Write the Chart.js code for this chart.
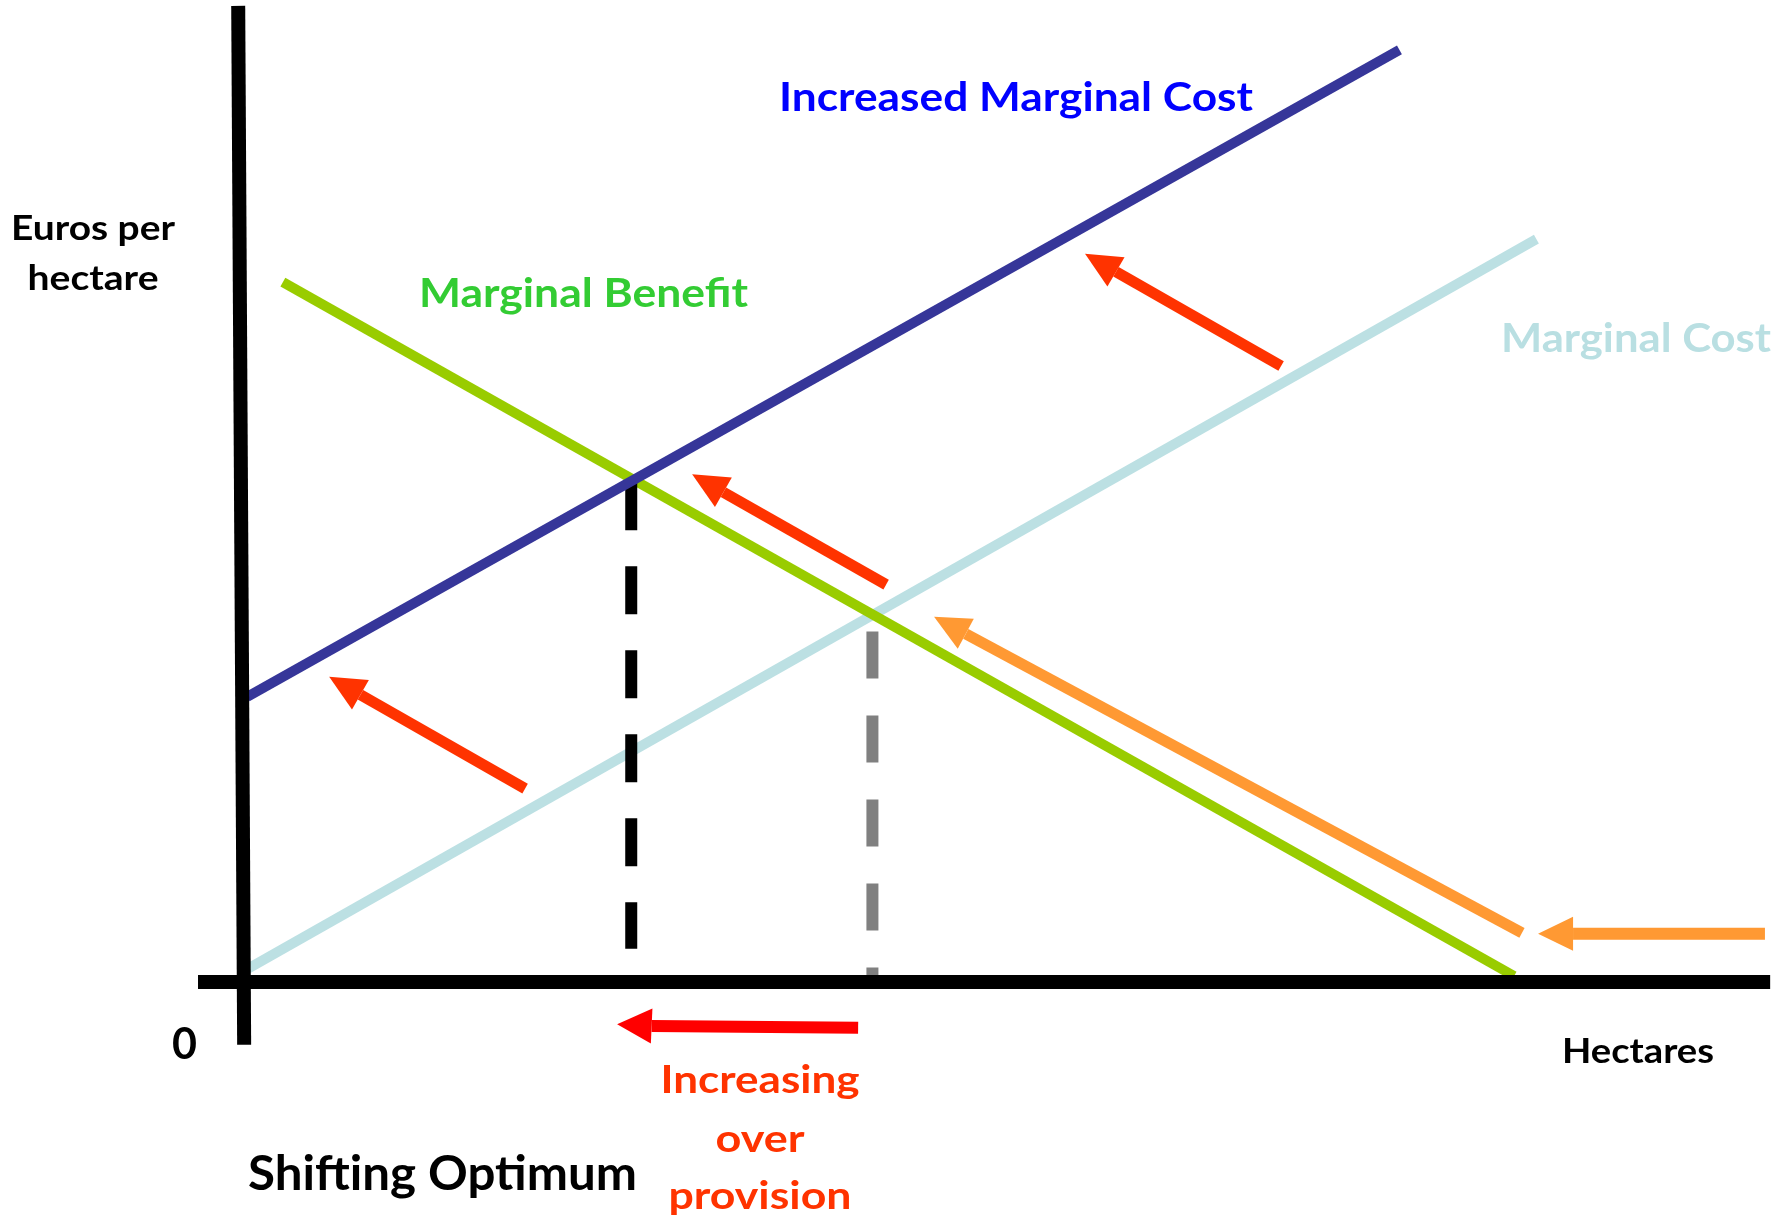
<!DOCTYPE html>
<html>
<head>
<meta charset="utf-8">
<title>Shifting Optimum</title>
<script src="https://cdn.jsdelivr.net/npm/chart.js@4.4.1/dist/chart.umd.min.js"></script>
<style>
  html, body { margin: 0; padding: 0; background: #ffffff; }
  canvas { display: block; }
</style>
</head>
<body>
<canvas id="chart" width="1791" height="1221"></canvas>
<script>
// values (x = hectares, y = euros per hectare, y-axis top = 100)
const yAxisLine = [{ x: -0.2, y: 100 }, { x: 0.2, y: -6.45 }];
const xAxisLine = [{ x: -2.9, y: 0 }, { x: 102.7, y: 0 }];
const marginalCost = [{ x: 0.4, y: 1.3 }, { x: 87.0, y: 76.1 }];
const increasedMarginalCost = [{ x: 0.4, y: 29.2 }, { x: 77.8, y: 95.5 }];
const marginalBenefit = [{ x: 2.8, y: 71.7 }, { x: 85.5, y: 0.6 }];
const newOptimumDrop = [{ x: 26.2, y: 51.2 }, { x: 26.2, y: 3.4 }];
const oldOptimumDrop = [{ x: 42.4, y: 35.9 }, { x: 42.4, y: 0.5 }];

// arrows: tail, head base, tip
const shiftArrowUpper = [{ x: 69.85, y: 63.1 }, { x: 58.76, y: 72.75 }, { x: 56.68, y: 74.6 }];
const shiftArrowMiddle = [{ x: 43.32, y: 40.7 }, { x: 32.39, y: 50.17 }, { x: 30.29, y: 52.0 }];
const shiftArrowLower = [{ x: 19.07, y: 19.8 }, { x: 8.01, y: 29.42 }, { x: 5.91, y: 31.25 }];
const benefitArrowSlope = [{ x: 86.03, y: 5.02 }, { x: 48.67, y: 35.66 }, { x: 46.54, y: 37.4 }];
const benefitArrowIn = [{ x: 102.35, y: 4.92 }, { x: 89.46, y: 4.92 }, { x: 87.11, y: 4.92 }];
const overProvisionArrow = [{ x: 41.44, y: -4.71 }, { x: 27.57, y: -4.51 }, { x: 25.25, y: -4.35 }];

const labelTexts = ['Increased Marginal Cost', 'Marginal Benefit', 'Marginal Cost', 'Euros per', 'hectare',
  '0', 'Hectares', 'Shifting Optimum', 'Increasing', 'over', 'provision'];

// text layout (pixels): anchor x, baseline y, size, fitted width
const labelStyles = [
  { x: 779, y: 111, size: 40, width: 474, align: 'left', color: '#0000ff' },
  { x: 419, y: 307, size: 40, width: 329, align: 'left', color: '#33cc33' },
  { x: 1501, y: 352, size: 41, width: 270, align: 'left', color: '#b9dfe2' },
  { x: 93, y: 240, size: 34, width: 164, align: 'center', color: '#000000' },
  { x: 93, y: 290, size: 34, width: 131, align: 'center', color: '#000000' },
  { x: 172, y: 1059, size: 43, width: 25, align: 'left', color: '#000000' },
  { x: 1562, y: 1063, size: 35, width: 152, align: 'left', color: '#000000' },
  { x: 248, y: 1190, size: 47, width: 389, align: 'left', color: '#000000' },
  { x: 760, y: 1093, size: 39, width: 199, align: 'center', color: '#ff3300' },
  { x: 760, y: 1152, size: 39, width: 89, align: 'center', color: '#ff3300' },
  { x: 760, y: 1209, size: 39, width: 183, align: 'center', color: '#ff3300' }
];

const FONT = 'Lato, "Open Sans", sans-serif';

function lineSet(label, data, color, width, order, extra) {
  return Object.assign({
    label,
    data,
    showLine: true,
    borderColor: color,
    backgroundColor: color,
    borderWidth: width,
    borderCapStyle: 'butt',
    pointRadius: 0,
    pointHoverRadius: 0,
    fill: false,
    tension: 0,
    order
  }, extra || {});
}

function arrowSet(label, data, color, width, halfHead) {
  return lineSet(label, data, color, width, 6, {
    arrowHalfWidth: halfHead,
    segment: {
      borderColor: (ctx) => (ctx.p0DataIndex === 1 ? 'transparent' : undefined)
    }
  });
}

// draws the arrow heads from the head-base point to the tip point
const arrowHeads = {
  id: 'arrowHeads',
  afterDatasetsDraw(chart) {
    const ctx = chart.ctx;
    chart.data.datasets.forEach((ds, i) => {
      if (!ds.arrowHalfWidth) return;
      const pts = chart.getDatasetMeta(i).data;
      const neck = pts[1];
      const tip = pts[2];
      const dx = tip.x - neck.x;
      const dy = tip.y - neck.y;
      const len = Math.hypot(dx, dy) || 1;
      const px = -dy / len * ds.arrowHalfWidth;
      const py = dx / len * ds.arrowHalfWidth;
      ctx.save();
      ctx.fillStyle = ds.borderColor;
      ctx.beginPath();
      ctx.moveTo(tip.x, tip.y);
      ctx.lineTo(neck.x + px, neck.y + py);
      ctx.lineTo(neck.x - px, neck.y - py);
      ctx.closePath();
      ctx.fill();
      ctx.restore();
    });
  }
};

const diagramLabels = {
  id: 'diagramLabels',
  afterDraw(chart) {
    const ctx = chart.ctx;
    labelTexts.forEach((text, i) => {
      const s = labelStyles[i];
      ctx.save();
      ctx.font = `bold ${s.size}px ${FONT}`;
      const w = ctx.measureText(text).width || 1;
      ctx.translate(s.x, s.y);
      ctx.scale(s.width / w, 1);
      ctx.textAlign = s.align;
      ctx.textBaseline = 'alphabetic';
      ctx.fillStyle = s.color;
      ctx.fillText(text, 0, 0);
      ctx.restore();
    });
  }
};

new Chart(document.getElementById('chart'), {
  type: 'scatter',
  data: {
    datasets: [
      lineSet('Vertical axis', yAxisLine, '#000000', 14, 0),
      lineSet('Horizontal axis', xAxisLine, '#000000', 14, 0),
      lineSet('Increased Marginal Cost', increasedMarginalCost, '#363699', 10, 1),
      lineSet('New optimum', newOptimumDrop, '#000000', 12, 2, { borderDash: [48, 36] }),
      lineSet('Marginal Benefit', marginalBenefit, '#99cc00', 10, 3),
      lineSet('Marginal Cost', marginalCost, '#bce0e3', 10, 4),
      lineSet('Old optimum', oldOptimumDrop, '#808080', 12, 5, { borderDash: [47, 37] }),
      arrowSet('Shift upper', shiftArrowUpper, '#ff3300', 11, 17),
      arrowSet('Shift middle', shiftArrowMiddle, '#ff3300', 11, 17),
      arrowSet('Shift lower', shiftArrowLower, '#ff3300', 11, 17),
      arrowSet('Benefit slope', benefitArrowSlope, '#ff9933', 11, 17),
      arrowSet('Benefit in', benefitArrowIn, '#ff9933', 12, 17),
      arrowSet('Over provision', overProvisionArrow, '#ff0000', 12, 17.5)
    ]
  },
  options: {
    responsive: false,
    animation: false,
    devicePixelRatio: 1,
    layout: { padding: 0 },
    plugins: {
      legend: { display: false },
      tooltip: { enabled: false }
    },
    scales: {
      x: { type: 'linear', min: -16.2, max: 104.1, display: false },
      y: { type: 'linear', min: -24.5, max: 100.6, display: false }
    }
  },
  plugins: [arrowHeads, diagramLabels]
});
</script>
</body>
</html>
